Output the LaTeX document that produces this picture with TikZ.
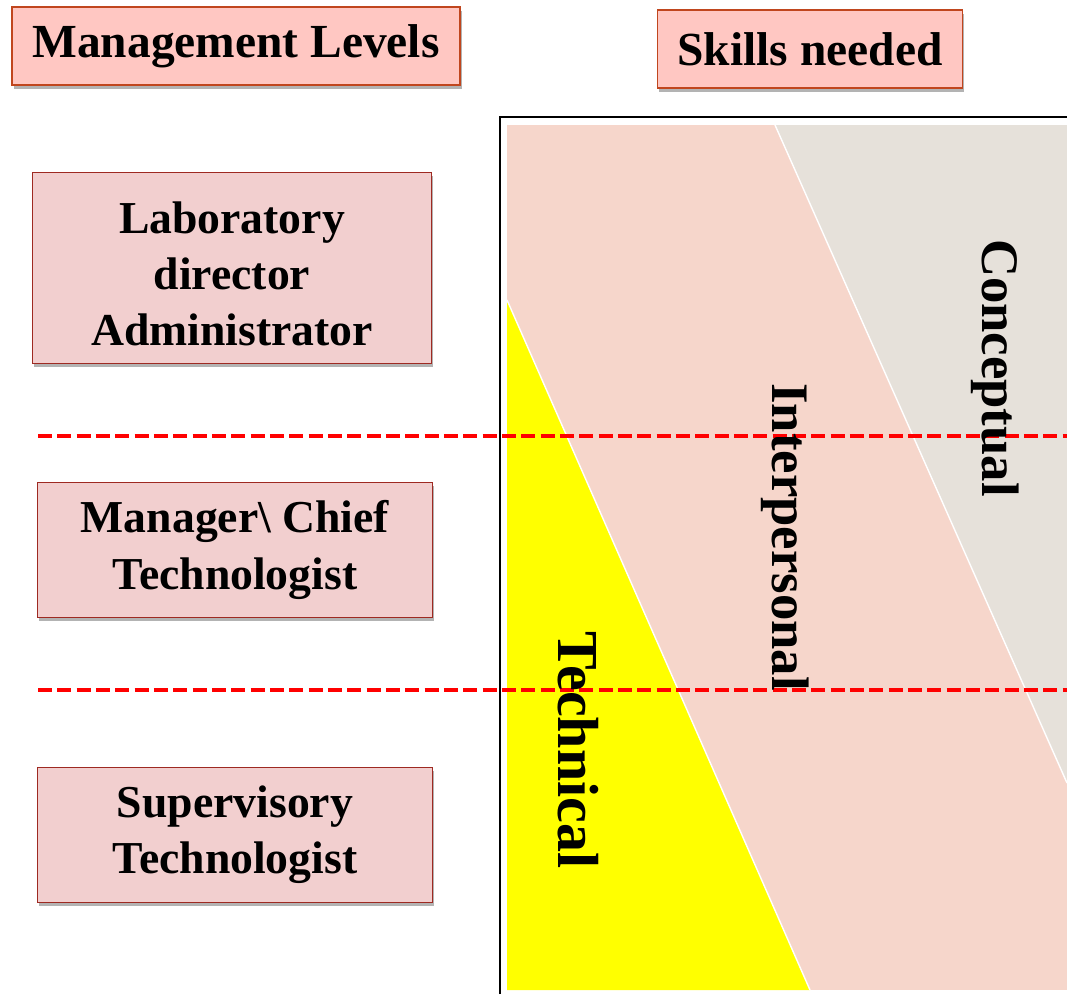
\documentclass[tikz,border=0pt]{standalone}
\usepackage{fontspec}
\setmainfont{Liberation Serif}
\usetikzlibrary{positioning, shadows}
\definecolor{headpink}{HTML}{FFC7C2}
\definecolor{headrim}{HTML}{C0461E}
\definecolor{levelpink}{HTML}{F2CFCF}
\definecolor{levelrim}{HTML}{9E2A22}
\definecolor{interpink}{HTML}{F6D6CB}
\definecolor{conceptgrey}{HTML}{E6E1DA}
\definecolor{techyellow}{HTML}{FFFF00}
\tikzstyle{cut} = [red, line width=2.6pt, dash pattern=on 8pt off 3pt]

\begin{document}
\begin{tikzpicture}[x=0.2mm,y=-0.2mm]
                \tikzstyle{every node}=[align=center, inner sep=0pt]
                \tikzstyle{header} = [draw=headrim, fill=headpink, line width=1.1pt, minimum height=15.6mm, drop shadow={shadow xshift=1pt, shadow yshift=-2pt, opacity=0.6}, font=\fontsize{27}{32}\selectfont\bfseries]
                \tikzstyle{level} = [draw=levelrim, fill=levelpink, line width=0.9pt, minimum width=79mm, minimum height=27mm, drop shadow={shadow xshift=1pt, shadow yshift=-2pt, opacity=0.6}, font=\fontsize{26}{32}\selectfont\bfseries]
                \tikzstyle{skill} = [rotate=-90, font=\fontsize{30}{34}\selectfont\bfseries]

                \useasboundingbox (0,0) rectangle (1067,994);

                % skill bands
                \fill[interpink] (507,125) rectangle (1067,990);
                \fill[conceptgrey] (775,125) -- (1067,125) -- (1067,783) -- cycle;
                \draw[white, line width=0.8pt] (775,125) -- (1067,783);
                \fill[techyellow] (507,300) -- (810,990) -- (507,990) -- cycle;
                \draw[white, line width=0.8pt] (507,300) -- (810,990);
                \draw[line width=1.2pt] (500,994) -- (500,117) -- (1067,117);

                \draw[cut] (38,436) -- (1067,436);
                \draw[cut] (38,690) -- (1067,690);

                \node[header, minimum width=89.6mm](mlevels) at (236,46) {Management Levels};
                \node[header, minimum width=61mm](skills) at (810,49) {Skills needed};

                \node[level, minimum width=79.8mm, minimum height=38.2mm](director) at (232,268) {\rule{0pt}{8.6mm}Laboratory\\director\\Administrator};
                \node[level](manager) at (235,550) {Manager\textbackslash\ Chief\\Technologist};
                \node[level](supervisor) at (235,835) {Supervisory\\Technologist};

                \node[skill](conceptual) at (995,368) {Conceptual};
                \node[skill](interpersonal) at (785,537) {Interpersonal};
                \node[skill, font=\fontsize{33}{36}\selectfont\bfseries](technical) at (578,750) {Technical};

        \end{tikzpicture}
\end{document}
